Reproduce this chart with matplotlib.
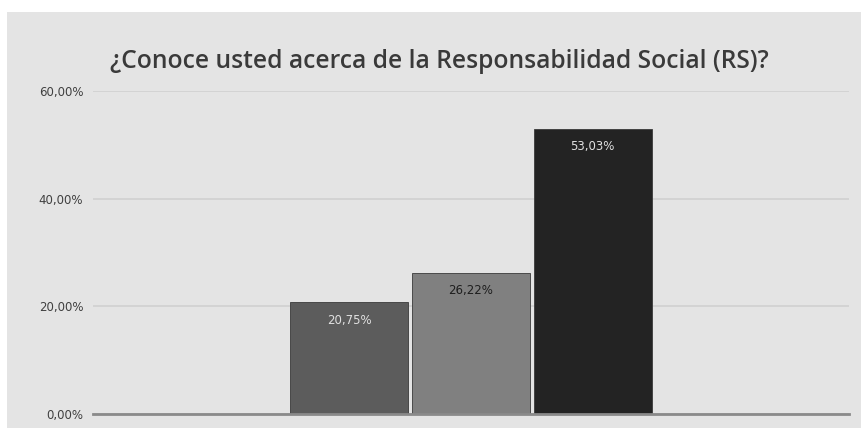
import matplotlib.pyplot as plt
from matplotlib.patches import Rectangle

# Respuestas a la pregunta (porcentajes)
series = ['Serie 1', 'Serie 2', 'Serie 3']
values = [20.75, 26.22, 53.03]
labels = ['20,75%', '26,22%', '53,03%']
bar_colors = ['#5c5c5c', '#808080', '#232323']
label_colors = ['#e0e0e0', '#1e1e1e', '#e0e0e0']
yticks = [0, 20, 40, 60]
ytick_labels = ['0,00%', '20,00%', '40,00%', '60,00%']

plt.rcParams['font.family'] = ['Open Sans', 'DejaVu Sans']

fig = plt.figure(figsize=(8.61, 4.30), dpi=100, facecolor='white')
# fondo gris del grafico
fig.patches.append(Rectangle((7 / 861, 2 / 430), 854 / 861, 416 / 430,
                             transform=fig.transFigure, facecolor='#e4e4e4',
                             edgecolor='none', zorder=-10))

ax = fig.add_axes([93 / 861, 16 / 430, 756 / 861, 323 / 430])
ax.set_zorder(1)
ax.set_facecolor('none')

offsets = [-0.161, 0.0, 0.161]
width = 0.156
for off, v, c, lab, lc in zip(offsets, values, bar_colors, labels, label_colors):
    ax.bar(off, v, width=width, color=c, edgecolor='#3a3a3a', linewidth=0.6, zorder=3)
    ax.text(off, v - 3.3, lab, ha='center', va='center', fontsize=8.5,
            family='DejaVu Sans', color=lc, zorder=4)

ax.set_xlim(-0.5, 0.5)
ax.set_ylim(0, 60)
ax.set_yticks(yticks)
ax.set_yticklabels(ytick_labels, fontsize=8.5, family='DejaVu Sans', color='#404040')
ax.set_xticks([])
ax.tick_params(axis='y', length=0, pad=7)
ax.grid(axis='y', color='#d0d0d0', linewidth=1.2, zorder=0)
for s in ['top', 'right', 'left']:
    ax.spines[s].set_visible(False)
ax.spines['bottom'].set_color('#8a8a8a')
ax.spines['bottom'].set_linewidth(2)
ax.spines['bottom'].set_zorder(5)

fig.text(439 / 861, 1 - 62 / 430, '¿Conoce usted acerca de la Responsabilidad Social (RS)?',
         ha='center', va='center', fontsize=17.7, fontweight='semibold', color='#3a3a3a')

fig.savefig('out.png', dpi=100, facecolor='white')
